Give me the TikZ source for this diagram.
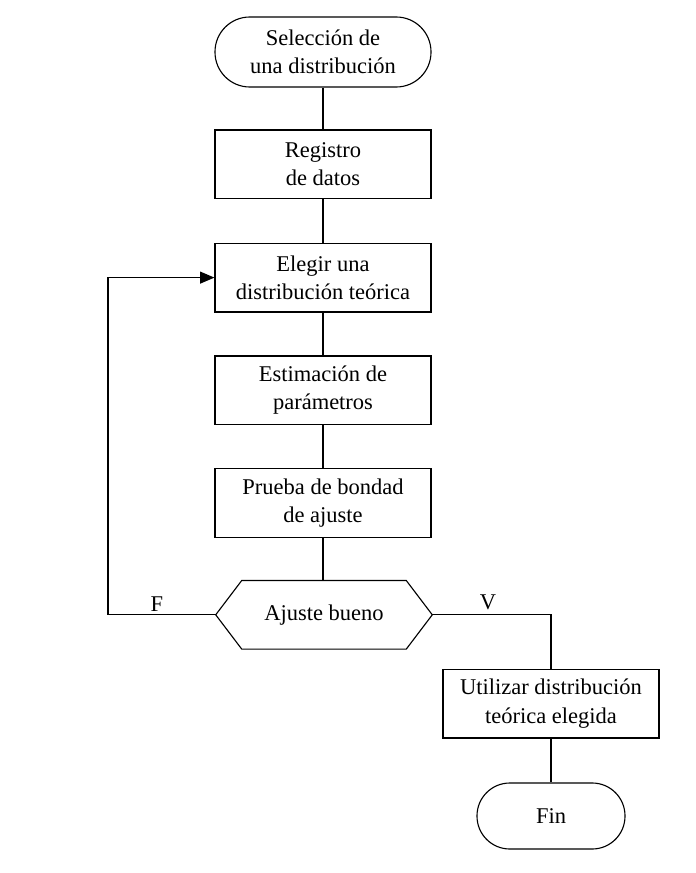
\documentclass[tikz,border=0pt]{standalone}
\usepackage{fontspec}
\setmainfont{Liberation Serif}
\usetikzlibrary{calc,arrows.meta}
\tikzset{
	caja/.style={draw, line width=0.8pt, minimum width=5.4cm, minimum height=1.72cm, align=center, inner sep=0pt},
	terminal/.style={draw, line width=0.8pt, rounded corners=0.87cm, minimum width=5.4cm, minimum height=1.75cm, align=center, inner sep=0pt},
	linea/.style={line width=0.8pt},
	flecha/.style={line width=0.8pt, -{Triangle[length=3.6mm,width=3mm]}},
	etiqueta/.style={inner sep=1pt}
}

\begin{document}
\begin{tikzpicture}[font=\fontsize{16}{20}\selectfont]
		%%%%% START %%%%%
		\useasboundingbox (0, 0) rectangle (17.375, -21.825);
		
		\node[terminal] (inicio) at (8.075, -1.3) {Selección de\\una distribución};
		\node[caja] (registro) at (8.075, -4.11) {Registro\\de datos};
		\node[caja] (elegir) at (8.075, -6.94) {Elegir una\\distribución teórica};
		\node[caja] (estimacion) at (8.075, -9.76) {Estimación de\\parámetros};
		\node[caja] (prueba) at (8.075, -12.58) {Prueba de bondad\\de ajuste};
		
		% decision
		\node[minimum width=5.4cm, minimum height=1.7cm, inner sep=0pt] (ajuste) at (8.1, -15.37) {Ajuste bueno};
		\draw[linea] (ajuste.west) -- ($(ajuste.north west)+(0.65, 0)$) -- ($(ajuste.north east)+(-0.65, 0)$)
			-- (ajuste.east) -- ($(ajuste.south east)+(-0.65, 0)$) -- ($(ajuste.south west)+(0.65, 0)$) -- cycle;
		
		\node[caja] (utilizar) at (13.775, -17.59) {Utilizar distribución\\teórica elegida};
		\node[terminal, minimum width=3.7cm, minimum height=1.65cm, rounded corners=0.82cm] (fin) at (13.775, -20.4) {Fin};
		
		\draw[linea] (inicio) -- (registro);
		\draw[linea] (registro) -- (elegir);
		\draw[linea] (elegir) -- (estimacion);
		\draw[linea] (estimacion) -- (prueba);
		\draw[linea] (prueba) -- (prueba |- ajuste.north);
		
		% falso
		\coordinate (esqF) at (2.7, -15.37);
		\draw[flecha] (ajuste.west) -- (esqF) |- (elegir.west);
		\node[etiqueta] (F) at (3.92, -15.1) {F};
		
		% verdadero
		\draw[linea] (ajuste.east) -| (utilizar.north);
		\node[etiqueta] (V) at (12.2, -15.05) {V};
		
		\draw[linea] (utilizar) -- (fin);
		
		%%%%% END %%%%%
	\end{tikzpicture}
\end{document}
